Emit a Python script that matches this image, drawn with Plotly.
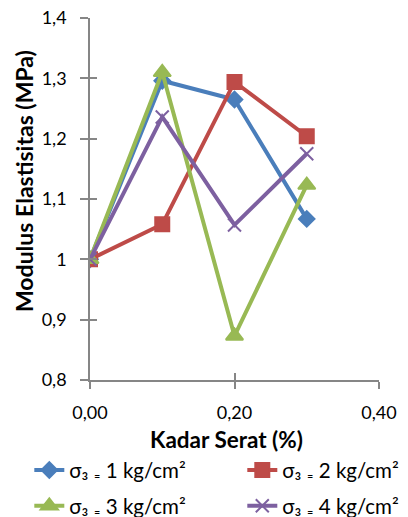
import plotly.graph_objects as go

# Fibre content (%) on the x axis
kadar_serat = [0.0, 0.1, 0.2, 0.3]

# Modulus of elasticity (MPa) for each confining pressure
sigma1 = [1.000, 1.296, 1.265, 1.067]
sigma2 = [1.000, 1.058, 1.294, 1.204]
sigma3 = [1.000, 1.310, 0.873, 1.123]
sigma4 = [1.000, 1.236, 1.057, 1.175]

x_ticks = [0.0, 0.2, 0.4]
x_ticktext = ["0,00", "0,20", "0,40"]
y_ticks = [0.8, 0.9, 1.0, 1.1, 1.2, 1.3, 1.4]
y_ticktext = ["0,8", "0,9", "1", "1,1", "1,2", "1,3", "1,4"]

names = ["σ₃ ₌ 1 kg/cm²", "σ₃ ₌ 2 kg/cm²", "σ₃ ₌ 3 kg/cm²", "σ₃ ₌ 4 kg/cm²"]
colors = ["#4A7EBB", "#BE4B48", "#98B954", "#7D60A0"]
symbols = ["diamond", "square", "triangle-up", "x-thin-open"]
sizes = [12, 14, 15, 13]
legends = ["legend", "legend2", "legend3", "legend4"]

FONT = "Lato"
AXIS_COLOR = "#868686"

fig = go.Figure()
for ys, name, c, s, sz, lg in zip([sigma1, sigma2, sigma3, sigma4], names, colors, symbols, sizes, legends):
    fig.add_trace(go.Scatter(
        x=kadar_serat, y=ys, name=name, mode="lines+markers",
        line=dict(color=c, width=4),
        marker=dict(symbol=s, size=sz, color=c, line=dict(color=c, width=2)),
        legend=lg,
    ))

xr = [0, 0.4]
yr = [0.8, 1.4]
tick_font = dict(family=FONT, size=18, color="#000000")
legend_font = dict(family=FONT, size=20.5, color="#000000")


def legend_box(x, y):
    return dict(x=x, xanchor="left", y=y, yanchor="middle", font=legend_font,
                bgcolor="rgba(0,0,0,0)", itemclick=False, itemdoubleclick=False)


fig.update_layout(
    width=408, height=517,
    margin=dict(l=90, r=29, t=18, b=137, autoexpand=False),
    paper_bgcolor="white", plot_bgcolor="white",
    font=dict(family=FONT, color="#000000"),
    xaxis=dict(
        range=xr, tickvals=x_ticks, ticktext=x_ticktext,
        showgrid=False, zeroline=False, showline=True, linecolor=AXIS_COLOR, linewidth=1.5,
        ticks="outside", ticklen=7, tickcolor=AXIS_COLOR, tickwidth=1.5,
        tickfont=tick_font, ticklabelstandoff=9,
    ),
    yaxis=dict(
        range=yr, tickvals=y_ticks, ticktext=y_ticktext,
        showgrid=False, zeroline=False, showline=True, linecolor=AXIS_COLOR, linewidth=1.5,
        ticks="outside", ticklen=8, tickcolor=AXIS_COLOR, tickwidth=1.5,
        tickfont=tick_font, ticklabelstandoff=10,
    ),
    # inner halves of the crossing tick marks
    xaxis2=dict(
        overlaying="x", anchor="y", matches="x", range=xr, tickvals=x_ticks,
        showticklabels=False, showgrid=False, zeroline=False, showline=False,
        ticks="inside", ticklen=7, tickcolor=AXIS_COLOR, tickwidth=1.5,
    ),
    yaxis2=dict(
        overlaying="y", anchor="x", matches="y", range=yr, tickvals=y_ticks,
        showticklabels=False, showgrid=False, zeroline=False, showline=False,
        ticks="inside", ticklen=7, tickcolor=AXIS_COLOR, tickwidth=1.5,
    ),
    legend=legend_box(-0.21, -0.249),
    legend2=legend_box(0.527, -0.249),
    legend3=legend_box(-0.21, -0.348),
    legend4=legend_box(0.527, -0.348),
    showlegend=True,
    annotations=[
        dict(text="<b>Kadar Serat (%)</b>", xref="paper", yref="paper",
             x=0.474, y=-0.165, xanchor="center", yanchor="middle", showarrow=False,
             font=dict(family=FONT, size=22.5, color="#000000")),
        dict(text="<b>Modulus Elastisitas (MPa)</b>", xref="paper", yref="paper",
             x=-0.228, y=0.55, xanchor="center", yanchor="middle", showarrow=False,
             textangle=-90, font=dict(family=FONT, size=23, color="#000000")),
    ],
)

# invisible trace so the overlay axes are drawn
fig.add_trace(go.Scatter(x=[None], y=[None], xaxis="x2", yaxis="y2",
                         showlegend=False, hoverinfo="skip"))

fig.write_html("out.html")
